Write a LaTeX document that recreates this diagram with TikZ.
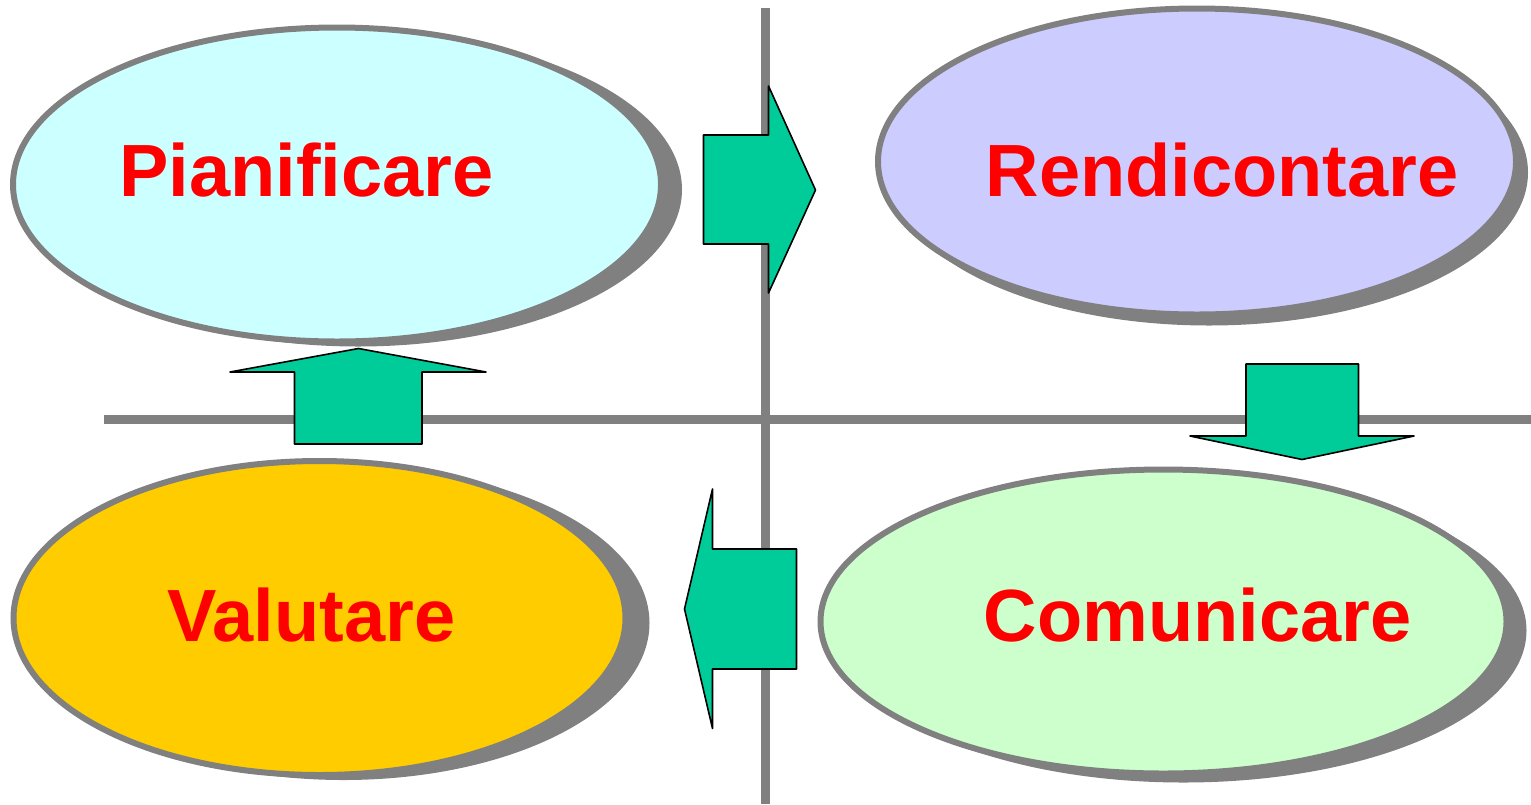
\documentclass[tikz,border=0pt]{standalone}
\usepackage{fontspec}
\setmainfont{Liberation Sans}
\usetikzlibrary{shapes.geometric,shadows}
\definecolor{axisgray}{HTML}{808080}
\definecolor{arrowgreen}{HTML}{00CC99}
\definecolor{plancyan}{HTML}{CCFFFF}
\definecolor{reportlilac}{HTML}{CCCCFF}
\definecolor{evalgold}{HTML}{FFCC00}
\definecolor{commmint}{HTML}{CCFFCC}
\begin{document}
\begin{tikzpicture}[x=1pt,y=-1pt,
  axisline/.style={draw=axisgray,line width=9pt},
  phase/.style={ellipse,inner sep=0pt,outer sep=0pt,draw=axisgray,line width=6pt},
  phaseshadow/.style 2 args={general shadow={fill=axisgray,shadow xshift=#1pt,shadow yshift=-#2pt}},
  phasetext/.style={anchor=base,text=red,font=\fontsize{74pt}{80pt}\selectfont\bfseries},
  blockarrow/.style={fill=arrowgreen,draw=black,line width=1.6pt,line join=round}]
\useasboundingbox (0,0) rectangle (1531,804);

% quadrant axes
\coordinate (vtop) at (765.5,8);
\coordinate (vbot) at (765.5,804);
\coordinate (hleft) at (104,419.5);
\coordinate (hright) at (1531,419.5);
\draw[axisline] (vtop) -- (vbot);
\draw[axisline] (hleft) -- (hright);

% the four phases
\node[phase,fill=plancyan,phaseshadow={21}{5},minimum width=648pt,minimum height=314pt] (pian) at (337,184.5) {};
\node[phase,fill=reportlilac,phaseshadow={12}{11},minimum width=638pt,minimum height=306pt] (rend) at (1197,161.5) {};
\node[phase,fill=evalgold,phaseshadow={24}{5},minimum width=612pt,minimum height=314pt] (valu) at (319.5,618) {};
\node[phase,fill=commmint,phaseshadow={20}{9},minimum width=686pt,minimum height=304pt] (comu) at (1163.5,621.5) {};

\node[phasetext] (pianlbl) at (306.5,196) {Pianificare};
\node[phasetext] (rendlbl) at (1222,196) {Rendicontare};
\node[phasetext] (valulbl) at (311.5,641) {Valutare};
\node[phasetext] (comulbl) at (1197.5,641) {Comunicare};

% block arrows between the phases
\draw[blockarrow] (703.5,135) -- (768.5,135) -- (768.5,86) -- (815.5,190)
  -- (768.5,293) -- (768.5,244) -- (703.5,244) -- cycle;
\draw[blockarrow] (1246,364) -- (1358.5,364) -- (1358.5,436) -- (1414,436)
  -- (1302,459.5) -- (1190,436) -- (1246,436) -- cycle;
\draw[blockarrow] (796.5,549) -- (712.5,549) -- (712.5,489) -- (684.5,609)
  -- (712.5,728.5) -- (712.5,669) -- (796.5,669) -- cycle;
\draw[blockarrow] (294.5,444) -- (294.5,372) -- (230,372) -- (358.5,348.5)
  -- (486,372) -- (422,372) -- (422,444) -- cycle;
\end{tikzpicture}
\end{document}
